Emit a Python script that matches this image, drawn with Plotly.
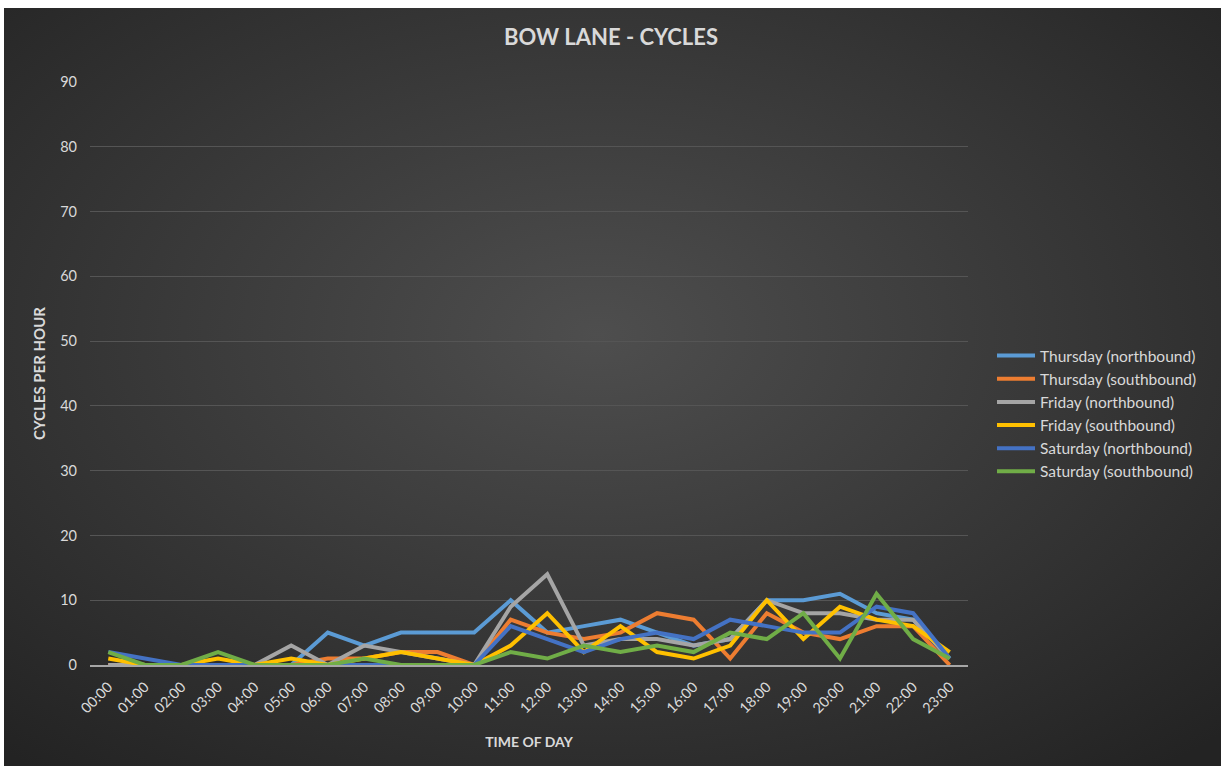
import base64
import plotly.graph_objects as go

# Hourly cycle counts on Bow Lane
hours = [f"{h:02d}:00" for h in range(24)]

thursday_north = [0, 0, 0, 0, 0, 0, 5, 3, 5, 5, 5, 10, 5, 6, 7, 5, 3, 4, 10, 10, 11, 8, 7, 1]
thursday_south = [0, 0, 0, 0, 0, 0, 1, 1, 2, 2, 0, 7, 5, 4, 5, 8, 7, 1, 8, 5, 4, 6, 6, 0]
friday_north = [0, 0, 0, 0, 0, 3, 0, 3, 2, 1, 0, 9, 14, 3, 4, 4, 3, 4, 10, 8, 8, 7, 7, 1]
friday_south = [1, 0, 0, 1, 0, 1, 0, 1, 2, 1, 0, 3, 8, 2, 6, 2, 1, 3, 10, 4, 9, 7, 6, 2]
saturday_north = [2, 1, 0, 0, 0, 0, 0, 0, 0, 0, 0, 6, 4, 2, 4, 5, 4, 7, 6, 5, 5, 9, 8, 1]
saturday_south = [2, 0, 0, 2, 0, 0, 0, 1, 0, 0, 0, 2, 1, 3, 2, 3, 2, 5, 4, 8, 1, 11, 4, 1]

series_names = [
    "Thursday (northbound)", "Thursday (southbound)",
    "Friday (northbound)", "Friday (southbound)",
    "Saturday (northbound)", "Saturday (southbound)",
]
series_values = [thursday_north, thursday_south, friday_north,
                 friday_south, saturday_north, saturday_south]
series_colors = ["#5B9BD5", "#ED7D31", "#A5A5A5", "#FFC000", "#4472C4", "#70AD47"]

FONT = "Lato, 'Open Sans', sans-serif"
TEXT = "#d9d9d9"

fig = go.Figure()
for name, vals, col in zip(series_names, series_values, series_colors):
    fig.add_trace(go.Scatter(
        x=hours, y=vals, name=name, mode="lines",
        line=dict(color=col, width=4, shape="linear"),
        hoverinfo="skip",
    ))

# Dark radial-gradient chart background
svg = (
    '<svg xmlns="http://www.w3.org/2000/svg" width="1240" height="780" '
    'viewBox="0 0 1240 780" preserveAspectRatio="none">'
    '<defs><radialGradient id="g" cx="48%" cy="42%" r="72%">'
    '<stop offset="0%" stop-color="#4e4e4e"/>'
    '<stop offset="100%" stop-color="#232323"/>'
    '</radialGradient></defs>'
    '<rect width="1240" height="780" fill="url(#g)"/></svg>'
)
bg_uri = "data:image/svg+xml;base64," + base64.b64encode(svg.encode()).decode()

W, H = 1221, 766
L, R, T, B = 90, 253, 82, 101
pw, ph = W - L - R, H - T - B


def px_x(p):
    return (p - L) / pw


def px_y(p):
    return (H - B - p) / ph


fig.add_layout_image(dict(
    source=bg_uri, xref="paper", yref="paper",
    x=px_x(4), y=px_y(8), sizex=px_x(W + 20) - px_x(4), sizey=px_y(8) - px_y(H + 20),
    xanchor="left", yanchor="top", sizing="stretch", layer="below",
))

fig.update_layout(
    width=W, height=H,
    margin=dict(l=L, r=R, t=T, b=B, pad=0, autoexpand=False),
    paper_bgcolor="white",
    plot_bgcolor="rgba(0,0,0,0)",
    font=dict(family=FONT, color=TEXT, size=14),
    title=dict(
        text="<b>BOW LANE - CYCLES</b>",
        x=px_x(611), xanchor="center", xref="paper",
        y=1 - 37 / H, yanchor="middle",
        font=dict(size=22, color=TEXT, family=FONT),
    ),
    showlegend=True,
    legend=dict(
        x=px_x(992), y=px_y(339), xanchor="left", yanchor="top",
        font=dict(size=15.5, color=TEXT, family=FONT),
        bgcolor="rgba(0,0,0,0)", tracegroupgap=0, itemwidth=38,
    ),
    xaxis=dict(
        type="category", range=[-0.5, 23.5],
        showgrid=False, tickangle=-45,
        tickfont=dict(size=14.5, color=TEXT),
        ticklabelstandoff=6,
        showline=True, linecolor="#a6a6a6", linewidth=1.5,
        ticks="", zeroline=False,
        title=dict(text="<b>TIME OF DAY</b>", font=dict(size=14, color=TEXT), standoff=22),
    ),
    yaxis=dict(
        range=[0, 90], dtick=10, tick0=0,
        showgrid=True, gridcolor="#555555", gridwidth=1,
        zeroline=False, showline=False, ticks="",
        tickfont=dict(size=14.5, color=TEXT),
        ticklabelstandoff=12,
        title=dict(text="<b>CYCLES PER HOUR</b>", font=dict(size=15, color=TEXT), standoff=10),
    ),
)

fig.write_html("out.html")
